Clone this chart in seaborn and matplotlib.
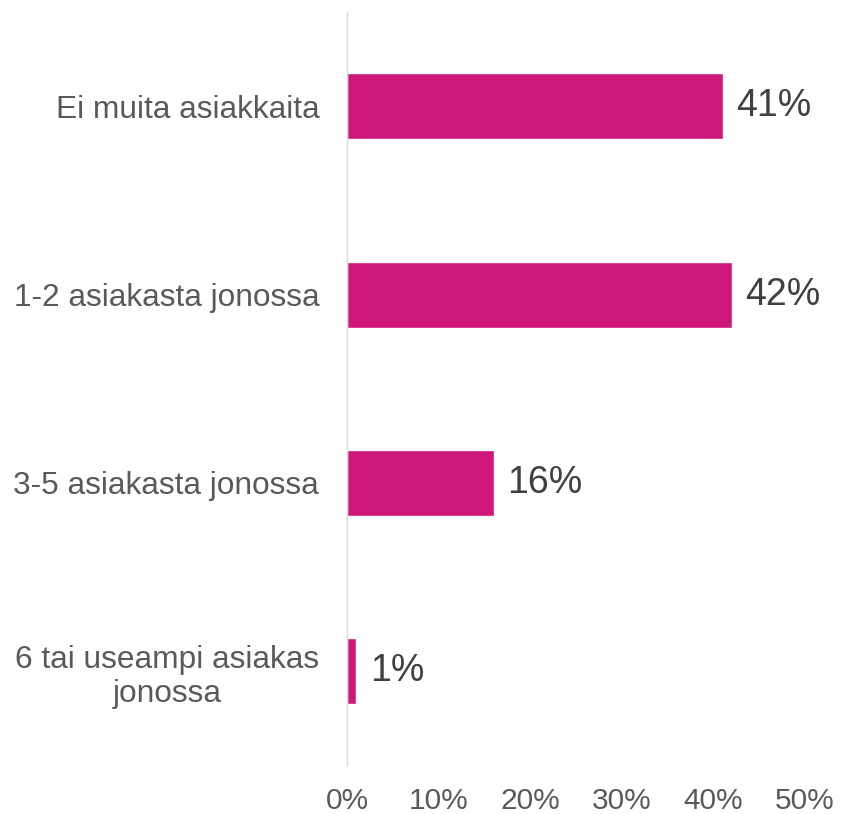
import pandas as pd
import matplotlib.pyplot as plt
import seaborn as sns

categories = ['Ei muita asiakkaita', '1-2 asiakasta jonossa', '3-5 asiakasta jonossa',
              '6 tai useampi asiakas\njonossa']
values = [41, 42, 16, 1]
xticks = [0, 10, 20, 30, 40, 50]

df = pd.DataFrame({'cat': categories, 'val': values})

sns.set_style('white')
plt.rcParams['font.family'] = ['Liberation Sans', 'DejaVu Sans']

fig = plt.figure(figsize=(8.41, 8.14), dpi=100)
ax = fig.add_axes([0.4126, 0.06, 0.5446, 0.925])

sns.barplot(data=df, x='val', y='cat', orient='h', color='#CE1779', saturation=1,
            width=0.35, ax=ax)

for c in ax.containers:
    ax.bar_label(c, fmt='%d%%', padding=10, fontsize=27, color='#404040')

ax.set_xlim(0, 50)
ax.set_ylim(3.5, -0.5)
ax.set_xticks(xticks)
ax.set_xticklabels([f'{t}%' for t in xticks], fontsize=21.5, color='#595959')
ax.tick_params(axis='x', length=0, pad=16)
ax.tick_params(axis='y', length=0, pad=20, labelsize=22.8, labelcolor='#595959')
for lbl in ax.get_yticklabels():
    lbl.set_multialignment('center')
    lbl.set_linespacing(1.2)
ax.set_xlabel('')
ax.set_ylabel('')

for s in ['top', 'right', 'bottom']:
    ax.spines[s].set_visible(False)
ax.spines['left'].set_color('#D9D9D9')
ax.spines['left'].set_linewidth(1)

plt.savefig('out.png', dpi=100)
